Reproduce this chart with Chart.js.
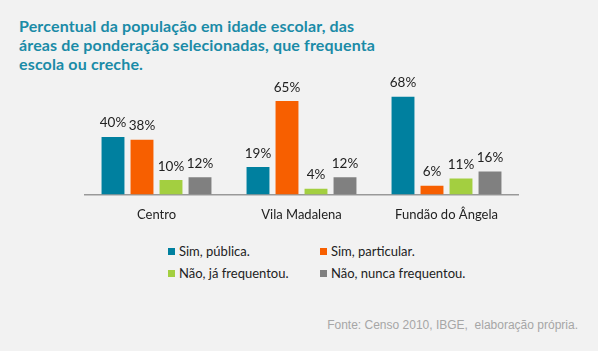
<!DOCTYPE html>
<html>
<head>
<meta charset="utf-8">
<title>Percentual da população em idade escolar</title>
<script src="https://cdn.jsdelivr.net/npm/chart.js@4/dist/chart.umd.min.js"></script>
<style>
  html, body { margin: 0; padding: 0; }
  body { width: 598px; height: 351px; background: #f2f2f2; position: relative; overflow: hidden; font-family: Lato, sans-serif; }
  #title { position: absolute; left: 19px; top: 16px; font-size: 16px; font-weight: bold; color: #1a8ba7; line-height: 19px; letter-spacing: 0.15px; }
  .chart-box { position: absolute; left: 84px; top: 65px; width: 435px; height: 163px; }
  #legend { position: absolute; left: 168px; top: 243px; font-size: 13px; color: #222; }
  #legend .item { position: absolute; white-space: nowrap; }
  #legend .sw { display: inline-block; width: 7px; height: 7px; margin-right: 4px; vertical-align: 1px; }
  #source { position: absolute; right: 20px; top: 318px; font-family: "Liberation Sans", Arial, sans-serif; font-size: 12px; color: #a6a6a6; }
</style>
</head>
<body>
<div id="title">Percentual da população em idade escolar, das<br>áreas de ponderação selecionadas, que frequenta<br>escola ou creche.</div>
<div class="chart-box"><canvas id="myChart"></canvas></div>
<div id="legend"></div>
<div id="source">Fonte: Censo 2010, IBGE,&nbsp; elaboração própria.</div>
<script>
var areas = ['Centro', 'Vila Madalena', 'Fundão do Ângela'];
var seriesNames = ['Sim, pública.', 'Sim, particular.', 'Não, já frequentou.', 'Não, nunca frequentou.'];
var simPublica = [40, 19, 68];
var simParticular = [38, 65, 6];
var naoJaFrequentou = [10, 4, 11];
var naoNuncaFrequentou = [12, 12, 16];
var colors = ['#00809f', '#f75f00', '#a3cf40', '#808080'];

var values = [simPublica, simParticular, naoJaFrequentou, naoNuncaFrequentou];

// labels above every bar
var barLabels = {
    id: 'barLabels',
    afterDatasetsDraw: function(chart) {
        var ctx = chart.ctx;
        ctx.save();
        ctx.font = '13.5px Lato';
        ctx.fillStyle = '#222';
        ctx.textAlign = 'center';
        ctx.textBaseline = 'bottom';
        chart.data.datasets.forEach(function(ds, i) {
            chart.getDatasetMeta(i).data.forEach(function(bar, j) {
                ctx.fillText(ds.data[j] + '%', bar.x, bar.y - 7);
            });
        });
        ctx.restore();
    }
};

var chart = new Chart(document.getElementById('myChart'), {
    type: 'bar',
    data: {
        labels: areas,
        datasets: seriesNames.map(function(name, i) {
            return { label: name, data: values[i], backgroundColor: colors[i], categoryPercentage: 0.8, barPercentage: 0.79 };
        })
    },
    options: {
        responsive: true,
        maintainAspectRatio: false,
        animation: false,
        layout: { padding: 0 },
        plugins: { legend: { display: false }, tooltip: { enabled: false } },
        scales: {
            x: {
                grid: { display: false },
                border: { color: '#999', width: 1.5 },
                ticks: { color: '#222', font: { family: 'Lato', size: 13 }, padding: 5 }
            },
            y: { display: false, min: 0, max: 90 }
        }
    },
    plugins: [barLabels]
});

var legend = document.getElementById('legend');
seriesNames.forEach(function(name, i) {
    var d = document.createElement('div');
    d.className = 'item';
    d.style.left = (i % 2) * 152 + 'px';
    d.style.top = Math.floor(i / 2) * 22 + 'px';
    d.innerHTML = '<span class="sw" style="background:' + colors[i] + '"></span>' + name;
    legend.appendChild(d);
});
</script>
</body>
</html>
